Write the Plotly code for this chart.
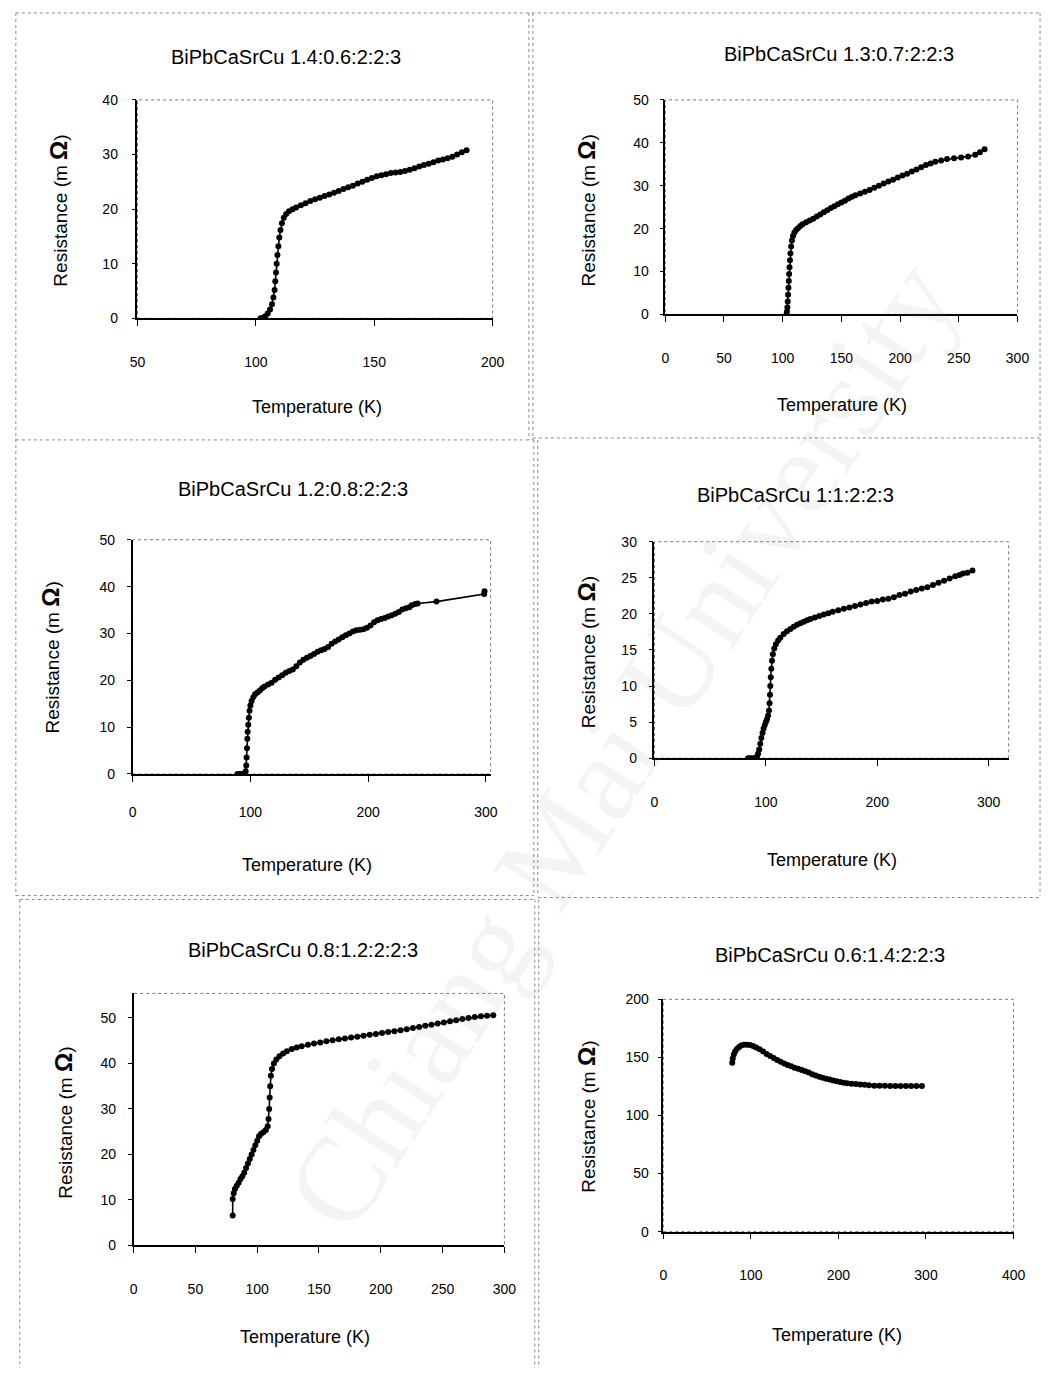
import plotly.graph_objects as go

W, H = 1054, 1376

# ---- measured R(T) curves for the six Bi:Pb ratios ----
t_14 = [102, 103, 104, 105, 106, 106.8, 107.4, 107.9, 108.2, 108.5, 108.8, 109.1, 109.5, 109.9,
        110.4, 111, 111.8, 112.8, 114, 115.5, 117, 119, 121, 123, 125, 127, 129, 131, 133, 135,
        137, 139, 141, 143, 145, 147, 149, 151, 153, 155, 157, 159, 161, 163, 165, 167, 169, 171,
        173, 175, 177, 179, 181, 183, 185, 187, 189]
r_14 = [0, 0.1, 0.4, 0.9, 1.6, 2.6, 3.8, 5.2, 6.8, 8.4, 10, 11.6, 13.2, 14.8,
        16.2, 17.4, 18.4, 19.1, 19.6, 20, 20.3, 20.7, 21.1, 21.5, 21.8, 22.1, 22.4, 22.7, 23, 23.3,
        23.7, 24, 24.3, 24.7, 25, 25.4, 25.7, 26, 26.2, 26.4, 26.6, 26.7, 26.8, 27, 27.2, 27.5, 27.8, 28.1,
        28.3, 28.6, 28.9, 29.1, 29.3, 29.6, 30, 30.4, 30.8]

t_13 = [103.2, 103.6, 104, 104.3, 104.6, 104.9, 105.2, 105.5, 105.8, 106.2, 106.6, 107.2, 107.9, 108.8,
        110, 111.5, 113, 115, 117, 120, 123, 126, 129, 132, 135, 138, 141, 144, 147, 150, 153, 156,
        159, 162, 166, 170, 174, 178, 182, 186, 190, 194, 198, 202, 206, 210, 214, 218, 222, 226,
        230, 235, 240, 246, 252, 258, 264, 268, 272]
r_13 = [0, 0.6, 1.6, 3, 4.6, 6.2, 7.8, 9.4, 11, 12.6, 14.2, 15.8, 17.2, 18.3,
        19.1, 19.7, 20.1, 20.6, 21, 21.5, 21.9, 22.3, 22.8, 23.3, 23.8, 24.3, 24.8, 25.2, 25.7, 26.1, 26.5, 27,
        27.4, 27.8, 28.2, 28.6, 29, 29.5, 30, 30.5, 31, 31.4, 31.9, 32.4, 32.8, 33.3, 33.8, 34.3, 34.8, 35.2,
        35.6, 35.9, 36.2, 36.4, 36.6, 36.8, 37.2, 37.8, 38.5]

t_12 = [89, 91, 93, 95, 96, 96.5, 96.8, 97.1, 97.4, 97.7, 98.2, 98.7, 99.3, 100, 101, 102.5, 104, 106,
        108, 110, 112, 115, 118, 121, 124, 127, 130, 133, 136, 139, 142, 145, 148, 151, 154, 157, 160,
        163, 166, 169, 172, 175, 178, 181, 184, 187, 190, 193, 196, 199, 202, 205, 208, 211, 214, 217,
        220, 223, 226, 229, 232, 235, 237, 240, 242, 258, 298.5, 298.8]
r_12 = [0, 0, 0, 0.1, 0.6, 1.8, 3.5, 5.5, 7.5, 9, 10.5, 12, 13.5, 14.6, 15.6, 16.4, 17, 17.4,
        17.8, 18.3, 18.7, 19.1, 19.5, 20.1, 20.6, 21.1, 21.6, 22, 22.3, 23, 23.8, 24.4, 24.8, 25.2, 25.6, 26.1, 26.4,
        26.7, 27.1, 27.8, 28.3, 28.7, 29.2, 29.6, 30, 30.4, 30.7, 30.8, 30.9, 31.2, 31.7, 32.4, 32.8, 33.1, 33.3, 33.6,
        33.9, 34.2, 34.6, 35.1, 35.4, 35.6, 36, 36.3, 36.4, 36.8, 38.4, 39]

t_10 = [84, 86, 88, 90, 92, 93, 94, 95, 96, 97, 98, 99, 100, 101, 102, 102.8, 103.3, 103.7, 104,
        104.4, 104.9, 105.5, 106.3, 107.5, 109, 111, 113, 116, 119, 122, 125, 128, 131, 134, 137, 140,
        144, 148, 152, 156, 160, 165, 170, 175, 180, 185, 190, 195, 200, 205, 210, 215, 220, 225, 230,
        235, 240, 245, 250, 255, 260, 265, 270, 274, 277, 281, 285.5]
r_10 = [0, 0, 0, 0, 0.2, 0.6, 1.2, 2, 2.8, 3.5, 4.1, 4.6, 5, 5.4, 5.9, 6.6, 7.6, 8.8, 10,
        11.2, 12.4, 13.5, 14.4, 15.2, 15.8, 16.3, 16.7, 17.2, 17.6, 17.9, 18.2, 18.5, 18.7, 18.9, 19.1, 19.3,
        19.5, 19.7, 19.9, 20.1, 20.3, 20.5, 20.7, 20.9, 21.1, 21.3, 21.5, 21.7, 21.8, 22, 22.1, 22.3, 22.6, 22.8, 23.1,
        23.3, 23.5, 23.7, 24, 24.3, 24.6, 24.9, 25.2, 25.4, 25.6, 25.7, 26]

t_08 = [80.2, 80.2, 81, 82, 83.5, 85, 86.5, 88, 89.5, 91, 92.5, 94, 95.5, 97, 98.5, 100, 101.5, 103,
        105, 107, 108.5, 109.2, 109.7, 110.1, 110.5, 111.1, 112, 113.5, 115.5, 118, 121, 124, 128, 132,
        136, 141, 146, 151, 156, 161, 166, 171, 176, 181, 186, 191, 196, 201, 206, 211, 216, 221, 226,
        231, 236, 241, 246, 251, 256, 261, 266, 271, 276, 281, 286, 291]
r_08 = [6.6, 10.2, 11.5, 12.4, 13.1, 13.8, 14.6, 15.2, 16, 17, 18, 19, 20, 21, 22, 23, 24, 24.5,
        24.9, 25.4, 26.2, 27.8, 30, 32.5, 35, 37.3, 38.8, 40, 40.9, 41.6, 42.2, 42.7, 43.2, 43.5,
        43.8, 44.1, 44.4, 44.6, 44.9, 45.1, 45.3, 45.5, 45.7, 45.9, 46.1, 46.3, 46.5, 46.7, 46.9, 47.1, 47.3, 47.5, 47.8,
        48, 48.3, 48.5, 48.8, 49, 49.3, 49.5, 49.8, 50, 50.2, 50.4, 50.5, 50.6]

t_06 = [78.7, 79.3, 80.5, 82, 84, 86.5, 89, 92, 95.5, 99, 102.5, 106, 110, 114, 118, 122, 126, 130,
        134, 138, 142, 146, 150, 154, 158, 162, 166, 170, 174, 178, 182, 186, 190, 194, 198, 202, 206,
        210, 215, 220, 225, 230, 235, 241, 247, 253, 259, 265, 271, 277, 283, 289, 295.3]
r_06 = [145.5, 149, 152.5, 155, 157.3, 159, 160.2, 160.8, 161, 160.6, 159.8, 158.6, 157, 155, 153, 151.2,
        149.5, 147.8, 146.3, 144.8, 143.5, 142.3, 141.2, 140.2, 139.1, 138.1, 137, 135.6, 134.4, 133.4, 132.5,
        131.7, 130.9, 130.1, 129.4, 128.8, 128.2, 127.7, 127.3, 127, 126.7, 126.5, 126.1, 125.6, 125.5, 125.5,
        125.4, 125.4, 125.4, 125.3, 125.3, 125.3, 125.3]

titles = ["BiPbCaSrCu 1.4:0.6:2:2:3", "BiPbCaSrCu 1.3:0.7:2:2:3", "BiPbCaSrCu 1.2:0.8:2:2:3",
          "BiPbCaSrCu 1:1:2:2:3", "BiPbCaSrCu 0.8:1.2:2:2:3", "BiPbCaSrCu 0.6:1.4:2:2:3"]
series = [(t_14, r_14), (t_13, r_13), (t_12, r_12), (t_10, r_10), (t_08, r_08), (t_06, r_06)]

# axis ranges and tick steps per panel
x_ranges = [[50, 200], [0, 300], [0, 304], [0, 318], [0, 300], [0, 400]]
x_dticks = [50, 50, 100, 100, 50, 100]
y_ranges = [[0, 40], [0, 50], [0, 50], [0, 30], [0, 55.4], [0, 200]]
y_dticks = [10, 10, 10, 5, 10, 50]

# plot-area boxes in pixels: left, right, top, bottom
boxes = [(132, 494, 93, 314), (670, 1029, 93, 310), (127, 492, 538, 775),
         (659, 1020, 540, 759), (128, 506, 997, 1252), (668, 1025, 1003, 1238)]
# tick label offsets (x axis, y axis)
x_standoff = [24, 24, 18, 24, 24, 24]
y_standoff = [11, 8, 9, 9, 9, 6]
# text anchors in pixels: title, y-title, x-title
title_pos = [(283, 50), (847, 47), (291, 487), (803, 493), (301, 953), (838, 958)]
ytitle_pos = [(52, 205), (590, 205), (43, 657), (590, 652), (57, 1128), (590, 1122)]
xtitle_pos = [(315, 404), (850, 402), (305, 867), (840, 862), (303, 1345), (845, 1343)]

FONT = "Arial, Liberation Sans, sans-serif"

fig = go.Figure()
layout = dict(width=W, height=H, margin=dict(l=0, r=0, t=0, b=0),
              paper_bgcolor="white", plot_bgcolor="white", showlegend=False,
              font=dict(family=FONT, color="black"))

annotations = []
shapes = []

# faint watermark running diagonally across the page
annotations.append(dict(text="Chiang Mai University", x=625 / W, y=1 - 745 / H, xref="paper",
                        yref="paper", showarrow=False, textangle=-57, xanchor="center",
                        yanchor="middle",
                        font=dict(size=122, family="Liberation Serif, DejaVu Serif, serif",
                                  color="rgba(150,150,150,0.10)")))

for i, ((t, r), box) in enumerate(zip(series, boxes)):
    n = "" if i == 0 else str(i + 1)
    xa, ya = "x" + n, "y" + n
    L, R, T, B = box
    fig.add_trace(go.Scatter(x=t, y=r, xaxis=xa, yaxis=ya, mode="lines+markers",
                             line=dict(color="black", width=1.6),
                             marker=dict(color="black", size=6)))
    layout["xaxis" + n] = dict(domain=[L / W, R / W], anchor=ya, range=x_ranges[i], dtick=x_dticks[i],
                               tick0=0, showgrid=False, zeroline=False, showline=True,
                               linecolor="black", linewidth=1.5, ticks="outside", ticklen=6,
                               tickwidth=1, tickcolor="black", ticklabelstandoff=x_standoff[i],
                               tickfont=dict(size=14, family=FONT, color="black"))
    layout["yaxis" + n] = dict(domain=[1 - B / H, 1 - T / H], anchor=xa, range=y_ranges[i],
                               dtick=y_dticks[i], tick0=0, showgrid=False, zeroline=False,
                               showline=True, linecolor="black", linewidth=1.5, ticks="outside",
                               ticklen=4, tickwidth=1, tickcolor="black", ticklabelstandoff=y_standoff[i],
                               tickfont=dict(size=14, family=FONT, color="black"))
    # dotted plot-area border
    shapes.append(dict(type="rect", xref="paper", yref="paper", x0=L / W, x1=R / W,
                       y0=1 - B / H, y1=1 - T / H, line=dict(color="#777", width=1, dash="dot"),
                       layer="below"))
    tx, ty = title_pos[i]
    annotations.append(dict(text=titles[i], x=tx / W, y=1 - ty / H, xref="paper", yref="paper",
                            showarrow=False, xanchor="center", yanchor="middle",
                            font=dict(size=20, family=FONT, color="black")))
    yx, yy = ytitle_pos[i]
    annotations.append(dict(text="Resistance (m <b><span style='font-size:24px'>Ω</span></b>)",
                            x=yx / W, y=1 - yy / H, xref="paper", yref="paper", textangle=-90,
                            showarrow=False, xanchor="center", yanchor="middle",
                            font=dict(size=19, family=FONT, color="black")))
    xx, xy = xtitle_pos[i]
    annotations.append(dict(text="Temperature (K)", x=xx / W, y=1 - xy / H, xref="paper", yref="paper",
                            showarrow=False, xanchor="center", yanchor="middle",
                            font=dict(size=18, family=FONT, color="black")))

# dotted frames separating the six panels
frame = dict(color="#888", width=1, dash="dot")
seg = [
    (8, 5, 1052, 5), (8, 5, 8, 898), (12, 902, 12, 1376), (1052, 5, 1052, 898),
    (531, 5, 531, 437), (535, 5, 535, 437), (536, 437, 536, 898), (540, 437, 540, 898),
    (8, 437, 536, 437), (535, 435, 1052, 435), (8, 898, 536, 898), (540, 900, 1052, 900),
    (12, 902, 537, 902), (537, 902, 537, 1376), (541, 902, 541, 1376),
]
for x0, y0, x1, y1 in seg:
    shapes.append(dict(type="line", xref="paper", yref="paper", x0=x0 / W, y0=1 - y0 / H,
                       x1=x1 / W, y1=1 - y1 / H, line=frame))

layout["annotations"] = annotations
layout["shapes"] = shapes
fig.update_layout(**layout)
fig.write_html("out.html")
